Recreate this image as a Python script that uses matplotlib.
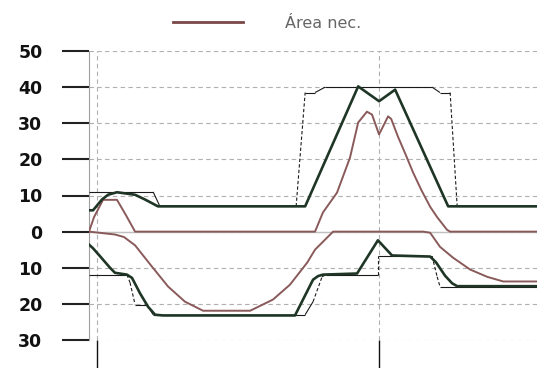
import numpy as np
import matplotlib
matplotlib.use("Agg")
import matplotlib.pyplot as plt
from matplotlib.collections import LineCollection
from matplotlib.lines import Line2D
from matplotlib.ticker import FuncFormatter

# upper side: thick envelope, thin stepped limit, needed area
upper_env_x = [-2.84, -1.42, 1.77, 3.9, 7.09, 13.5, 17.0, 21.6, 73.8, 92.6, 100.0, 105.7, 124.5, 156.0]
upper_env_y = [5.9, 5.9, 8.9, 10.2, 10.9, 10.2, 8.9, 7.0, 7.0, 40.2, 36.1, 39.3, 7.0, 7.0]

upper_lim_x = [-2.84, 19.9, 22.3, 70.6, 73.8, 77.3, 80.9, 118.8, 121.6, 125.2, 127.7, 156.0]
upper_lim_y = [11.0, 11.0, 7.0, 7.0, 38.5, 38.5, 40.0, 40.0, 38.5, 38.5, 7.0, 7.0]

upper_area_x = [-2.84, -1.06, 2.13, 7.09, 10.3, 13.5, 77.3, 80.1, 85.1, 89.7, 92.6, 95.7, 97.5,
                100.0, 103.2, 104.3, 106.7, 109.5, 112.1, 115.0, 118.1, 120.6, 124.1, 125.2, 156.0]
upper_area_y = [0.0, 4.0, 8.8, 8.8, 4.5, 0.0, 0.0, 5.3, 10.8, 20.5, 30.2, 33.2, 32.4,
                26.9, 31.9, 31.2, 26.3, 21.2, 16.3, 11.5, 6.9, 4.0, 0.5, 0.0, 0.0]

# lower side (drawn below zero)
lower_env_x = [-2.84, -1.42, 1.06, 4.61, 6.38, 10.6, 12.4, 15.2, 18.1, 20.6, 23.4, 70.2, 76.6,
               78.4, 80.1, 92.2, 99.6, 104.6, 118.1, 120.2, 123.4, 125.9, 127.7, 156.0]
lower_env_y = [-3.6, -4.6, -6.8, -10.0, -11.4, -11.9, -12.8, -17.0, -20.8, -23.0, -23.2, -23.2, -13.3,
               -12.3, -11.9, -11.6, -2.4, -6.6, -6.9, -8.5, -12.2, -14.3, -15.1, -15.1]

lower_lim_x = [-2.84, 10.6, 11.7, 13.5, 17.7, 19.9, 73.8, 76.6, 79.8, 81.2, 99.6, 99.6, 118.8,
               120.6, 121.6, 156.0]
lower_lim_y = [-11.9, -11.9, -14.1, -20.2, -20.2, -23.0, -23.0, -19.4, -12.5, -11.9, -11.9, -6.8, -6.8,
               -12.5, -15.2, -15.2]

lower_area_x = [-2.84, 6.38, 9.57, 13.5, 19.5, 25.2, 31.2, 37.6, 54.3, 62.4, 68.4, 74.5, 77.3, 83.7,
                115.6, 118.1, 121.6, 126.2, 132.3, 138.3, 144.0, 156.0]
lower_area_y = [0.0, -0.8, -1.5, -3.8, -9.7, -15.2, -19.4, -21.9, -21.9, -18.8, -14.7, -8.6, -5.0, 0.0,
                0.0, -0.3, -4.2, -7.2, -10.5, -12.5, -13.8, -13.8]

x_ticks = [0, 100]
y_ticks = [50, 40, 30, 20, 10, 0, -10, -20, -30]

GREEN = "#1f3626"
BROWN = "#8a5a5a"
THIN = "#1a1a1a"


def limit_line(ax, xs, ys):
    # thin stepped line: steep parts dashed, flat parts solid
    pts = np.column_stack([xs, ys])
    disp = ax.transData.transform(pts)
    d = np.abs(np.diff(disp, axis=0))
    segs = np.stack([pts[:-1], pts[1:]], axis=1)
    styles = [(0, (3, 2)) if dy > 2.5 * dx else "solid" for dx, dy in d]
    ax.add_collection(LineCollection(segs, colors=THIN, linewidths=0.8, linestyles=styles, zorder=3))


fig = plt.figure(figsize=(5.37, 3.68), dpi=100)
ax = fig.add_axes([89 / 537, 28 / 368, 448 / 537, 289 / 368])
ax.set_xlim(-2.84, 156.0)
ax.set_ylim(-30, 50)

ax.set_xticks(x_ticks)
ax.set_yticks(y_ticks)
ax.yaxis.set_major_formatter(FuncFormatter(lambda v, _: f"{abs(v):.0f}"))
ax.tick_params(axis="y", length=19.5, width=1.5, color="#222222", pad=14,
               labelsize=12.5, labelcolor="#111111")
ax.tick_params(axis="x", length=20, width=1.0, color="#111111", labelbottom=False)
for lab in ax.get_yticklabels():
    lab.set_fontweight("bold")

ax.grid(True, color="#b0b0b0", linestyle=(0, (4, 3)), linewidth=0.8)
ax.set_axisbelow(True)
for side in ("top", "right", "bottom"):
    ax.spines[side].set_visible(False)
ax.spines["left"].set_color("#a0a0a0")
ax.spines["left"].set_linewidth(0.8)

ax.axhline(0, color="#c0c0c0", linewidth=1.0, zorder=1.5)

limit_line(ax, upper_lim_x, upper_lim_y)
limit_line(ax, lower_lim_x, lower_lim_y)
ax.plot(upper_area_x, upper_area_y, color=BROWN, linewidth=1.4, zorder=4)
ax.plot(lower_area_x, lower_area_y, color=BROWN, linewidth=1.4, zorder=4)
ax.plot(upper_env_x, upper_env_y, color=GREEN, linewidth=1.9, zorder=5)
ax.plot(lower_env_x, lower_env_y, color=GREEN, linewidth=1.9, zorder=5)

handle = Line2D([], [], color="#7a4848", linewidth=2.0)
fig.legend([handle], ["Área nec."], loc="center", bbox_to_anchor=(0.497, 1 - 23 / 368),
           frameon=False, handlelength=4.4, handletextpad=2.6, labelcolor="#666666",
           prop={"family": "DejaVu Sans", "size": 11.5})

fig.savefig("out.png", dpi=100)
